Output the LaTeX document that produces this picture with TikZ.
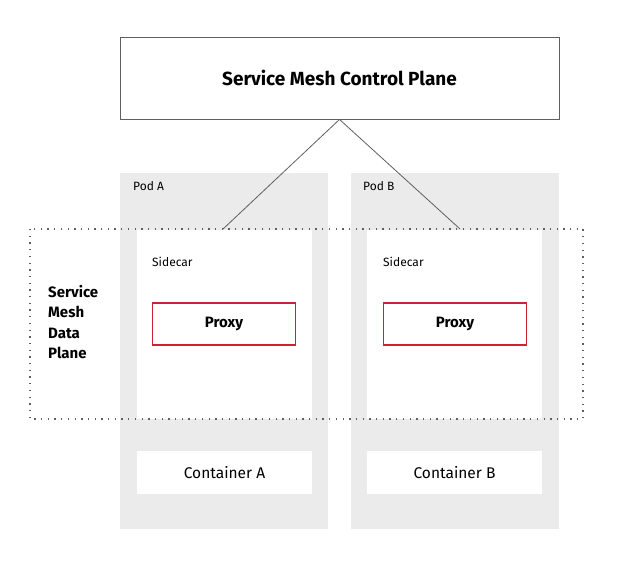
\documentclass[tikz,border=0pt]{standalone}
\usepackage{fontspec}
\setmainfont{Fira Sans}
\usetikzlibrary{positioning}
\definecolor{podgray}{RGB}{235,235,235}
\definecolor{proxyred}{RGB}{206,32,54}
\definecolor{edgegray}{RGB}{95,95,95}

\begin{document}
\begin{tikzpicture}[x=1pt, y=-1pt, inner sep=0pt,
        pod/.style={fill=podgray, anchor=north west, minimum width=208pt, minimum height=356pt},
        whitebox/.style={fill=white, minimum width=175pt},
        proxybox/.style={draw=proxyred, line width=1.5pt, fill=white, minimum width=143pt,
            minimum height=42pt, font=\fontsize{15}{17}\selectfont\bfseries},
        small/.style={anchor=west, font=\fontsize{12}{14}\selectfont}]
        \useasboundingbox (0,0) rectangle (620,561);
        % pods
        \node[pod] (podA) at (120,173) {};
        \node[pod] (podB) at (351,173) {};
        \node[small] (podAlabel) at (133,186) {Pod A};
        \node[small] (podBlabel) at (363,186) {Pod B};
        % sidecars and containers
        \node[whitebox, minimum height=189pt, anchor=north] (sideA) at (224.5,230) {};
        \node[whitebox, minimum height=189pt, anchor=north] (sideB) at (454.5,230) {};
        \node[whitebox, minimum height=43pt, font=\fontsize{15.5}{17}\selectfont] (contA) at (224.5,472.5) {Container A};
        \node[whitebox, minimum height=43pt, font=\fontsize{15.5}{17}\selectfont] (contB) at (454.5,472.5) {Container B};
        \node[small] (sideAlabel) at (152,262) {Sidecar};
        \node[small] (sideBlabel) at (383,262) {Sidecar};
        % data plane
        \draw[edgegray, line width=1.3pt, dash pattern=on 1.3pt off 5.4pt]
            (30,229) rectangle (583,419);
        \node[anchor=north west, align=left, font=\fontsize{15}{20.5}\selectfont\bfseries]
            (dataplane) at (48,285) {Service\\Mesh\\Data\\Plane};
        \node[proxybox] (proxyA) at (224,324) {Proxy};
        \node[proxybox] (proxyB) at (455,324) {Proxy};
        % control plane
        \node[draw=edgegray, line width=0.9pt, fill=white, minimum width=439pt, minimum height=82pt,
            font=\fontsize{19}{22}\selectfont\bfseries] (control) at (339.5,78) {Service Mesh Control Plane};
        \coordinate (tapA) at (223,229);
        \coordinate (tapB) at (460,229);
        \draw[edgegray, line width=0.8pt] (tapA) -- (control.south) -- (tapB);
\end{tikzpicture}
\end{document}
